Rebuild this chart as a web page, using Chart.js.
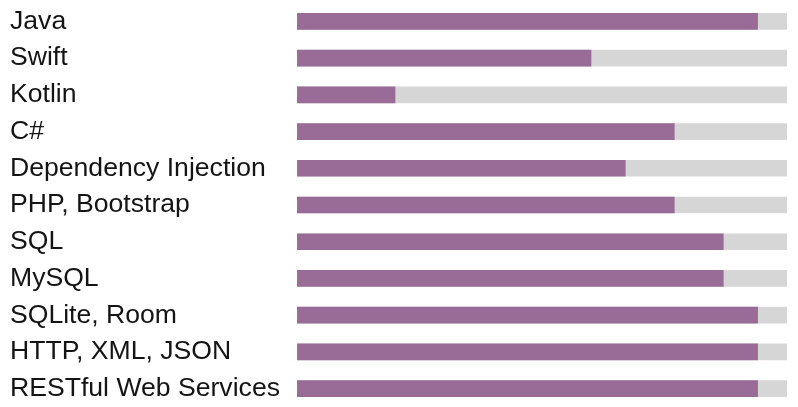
<!DOCTYPE html>
<html>
  <head>
    <title>Skills</title>
    <meta charset="UTF-8" />
    <script src="https://cdn.jsdelivr.net/npm/chart.js@4"></script>
    <style>
      body { margin: 0; background: #fff; }
      #wrap { width: 798px; height: 407px; }
    </style>
  </head>
  <body>
    <div id="wrap"><canvas id="myChart"></canvas></div>
    <script>
      var skills = ["Java", "Swift", "Kotlin", "C#", "Dependency Injection", "PHP, Bootstrap",
                    "SQL", "MySQL", "SQLite, Room", "HTTP, XML, JSON", "RESTful Web Services"];
      var levels = [94, 60, 20, 77, 67, 77, 87, 87, 94, 94, 94];
      var full = [100, 100, 100, 100, 100, 100, 100, 100, 100, 100, 100];

      var ctx = document.getElementById("myChart").getContext("2d");
      var chart = new Chart(ctx, {
        type: "bar",
        data: {
          labels: skills,
          datasets: [
            {
              label: "Level",
              backgroundColor: "#996c98",
              data: levels,
              grouped: false,
              barThickness: 16
            },
            {
              label: "Max",
              backgroundColor: "#d6d6d6",
              data: full,
              grouped: false,
              barThickness: 16
            }
          ]
        },
        options: {
          indexAxis: "y",
          responsive: true,
          maintainAspectRatio: false,
          animation: false,
          layout: { padding: { left: 10, right: 11, top: 3, bottom: 0 } },
          plugins: { legend: { display: false }, tooltip: { enabled: false } },
          scales: {
            x: { display: false, min: 0, max: 100 },
            y: {
              grid: { display: false },
              border: { display: false },
              afterFit: function(scale) {
                scale.width = 287;
                scale.paddingTop = 0;
                scale.paddingBottom = 0;
              },
              ticks: {
                crossAlign: "far",
                padding: 0,
                color: "#141414",
                font: { family: "'Liberation Sans', Arial, sans-serif", size: 26.6 }
              }
            }
          }
        }
      });
    </script>
  </body>
</html>
